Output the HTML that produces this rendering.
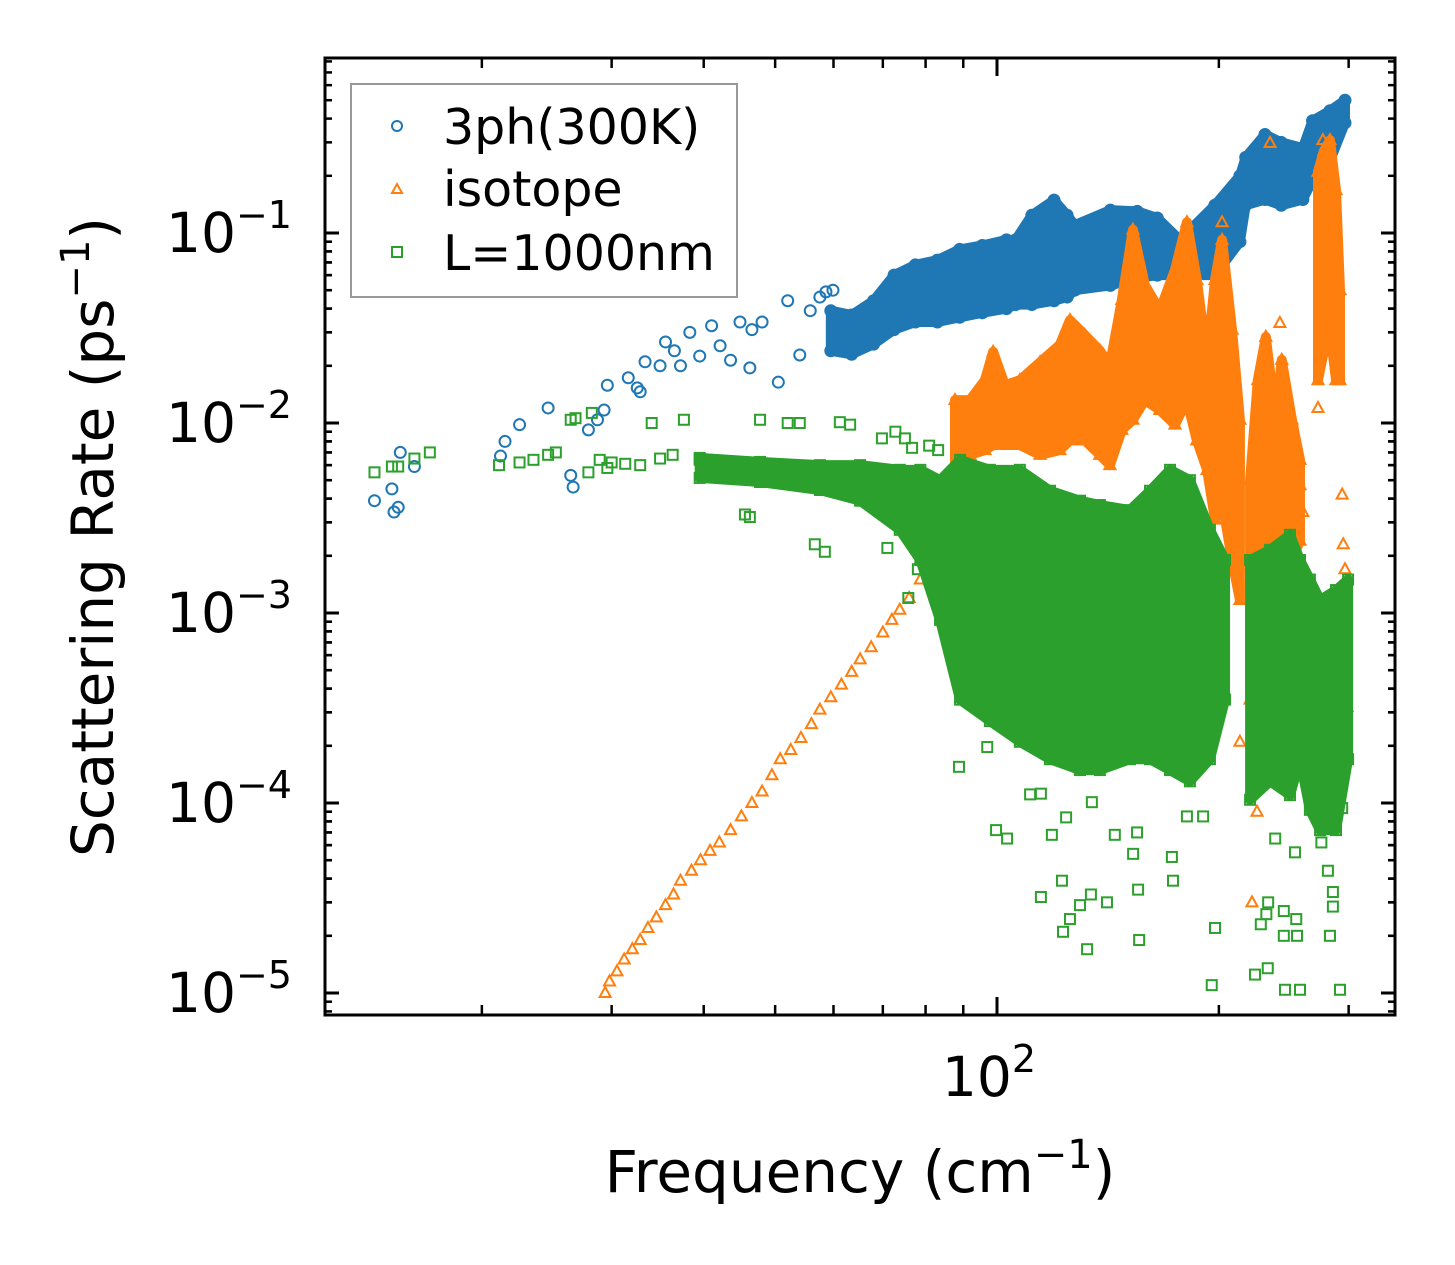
<!DOCTYPE html>
<html><head><meta charset="utf-8"><style>
html,body{margin:0;padding:0;background:#fff;}
svg{display:block;font-family:"DejaVu Sans","Liberation Sans",sans-serif;}
</style></head><body>
<svg id="chart" width="1455" height="1265" viewBox="0 0 1455 1265" xmlns="http://www.w3.org/2000/svg">
<g id="marks"></g>
<g id="axes"></g>
</svg>
<script>
// ---------- data ----------
const blueBandF  = [59.5,63.5,68.0,72.5,77.5,83.0,89.0,95.5,103.0,106.0,111.5,119.5,124.5,127.5,142.5,155.0,165.0,177.0,197.5,213.6,217.5,231.0,243.0,260.0,268.0,283.0,296.6];
const blueBandHi = [0.039,0.037,0.044,0.060,0.068,0.072,0.082,0.086,0.092,0.092,0.124,0.149,0.124,0.110,0.132,0.130,0.120,0.092,0.140,0.200,0.250,0.330,0.300,0.280,0.390,0.440,0.500];
const blueBandLo = [0.024,0.023,0.026,0.031,0.034,0.034,0.036,0.038,0.040,0.042,0.042,0.044,0.046,0.050,0.053,0.058,0.060,0.060,0.060,0.090,0.140,0.150,0.140,0.150,0.190,0.240,0.380];
const blueF = [14.3,15.1,15.2,15.4,15.5,16.2,21.2,21.5,22.5,24.6,26.4,26.6,27.9,28.7,29.3,29.6,31.6,32.5,32.8,33.3,34.9,35.5,36.5,37.2,38.3,39.5,41.0,42.1,43.5,44.8,46.2,46.5,48.0,50.5,52.0,54.0,55.8,57.5,58.6,59.9];
const blueR = [0.0039,0.0045,0.0034,0.0036,0.0070,0.0059,0.0067,0.0080,0.0098,0.0120,0.0053,0.0046,0.0092,0.0104,0.0117,0.0158,0.0173,0.0153,0.0146,0.021,0.020,0.0267,0.024,0.020,0.030,0.0225,0.0325,0.0255,0.0214,0.034,0.0195,0.031,0.034,0.0164,0.044,0.0228,0.039,0.046,0.049,0.050];

const orangeLineF = [29.4,29.8,30.5,31.2,32.0,32.8,33.6,34.5,35.5,36.4,37.2,38.5,39.6,40.8,42.0,43.5,45.0,46.5,48.0,49.5,50.8,52.5,54.2,56.0,57.5,59.5,61.5,63.5,65.2,67.5,70.0,72.0,73.8,76.0,78.7,81.0,83.7];
const orangeLineR = [1.0e-5,1.15e-5,1.3e-5,1.5e-5,1.7e-5,1.9e-5,2.2e-5,2.5e-5,2.9e-5,3.3e-5,3.9e-5,4.4e-5,5.0e-5,5.6e-5,6.2e-5,7.2e-5,8.5e-5,1.0e-4,1.15e-4,1.4e-4,1.7e-4,1.9e-4,2.2e-4,2.6e-4,3.1e-4,3.6e-4,4.2e-4,4.9e-4,5.7e-4,6.6e-4,7.9e-4,9.2e-4,1.04e-3,1.2e-3,1.5e-3,1.7e-3,1.9e-3];
const orangeBandF  = [87.7,91.9,96.3,98.8,102.5,107.4,114.4,121.7,125.6,131.6,137.9,142.3,147.7,152.9,158.7,166.3,174.4,181.0,186.7,192.8,197.6,202.0,208.4,213.6,null,220.5,225.9,231.6,238.9,243.4,251.3,257.7,null,272.6,277.7,283.0,288.4,292.0];
const orangeBandHi = [0.0132,0.0132,0.0168,0.0237,0.0158,0.0168,0.0209,0.0258,0.0348,0.029,0.024,0.0202,0.0444,0.104,0.0532,0.039,0.064,0.114,0.0566,0.0215,0.0566,0.092,0.031,0.0104,null,0.005,0.0168,0.0284,0.0104,0.0215,0.0104,0.0064,null,0.21,0.27,0.308,0.168,0.05];
const orangeBandLo = [0.00566,0.0068,0.0072,0.00766,0.00766,0.00766,0.0068,0.0072,0.0081,0.0081,0.0068,0.0060,0.0092,0.0104,0.0132,0.0117,0.0098,0.0132,0.0081,0.00566,0.0031,0.0039,0.0019,0.00117,null,3.5e-4,2.7e-4,3.5e-4,7.2e-4,0.00117,0.0019,0.0024,null,0.0168,0.024,0.031,0.0168,0.0168];
const orangeF = [202.0,234.7,276.8,242.0,272.6,294.0,295.0,296.6,298.5,260.0,257.7,213.6,225.3,221.8,137.9,144.0,127.6];
const orangeR = [0.114,0.298,0.308,0.0336,0.0120,0.0042,0.0023,0.0017,3.2e-4,0.0034,0.0047,2.1e-4,9.0e-5,3.0e-5,0.0114,0.0099,0.0031];

const greenBandF  = [39.5,47.7,57.5,65.2,73.8,78.7,83.7,89.1,97.8,107.4,118.0,129.6,137.9,151.5,161.3,171.7,182.7,194.5,203.9,null,220.5,234.7,249.8,257.7,265.8,274.4,288.4,299.5];
const greenBandHi = [0.00655,0.00624,0.0060,0.0060,0.00567,0.00567,0.0050,0.0064,0.00567,0.00567,0.0044,0.0039,0.0037,0.00348,0.0044,0.00567,0.0050,0.00274,0.0019,null,0.0019,0.00215,0.00258,0.0019,0.0015,0.00117,0.00132,0.0015];
const greenBandLo = [0.00514,0.00489,0.00444,0.0039,0.00274,0.0019,9.2e-4,3.5e-4,2.7e-4,2.1e-4,1.7e-4,1.49e-4,1.49e-4,1.7e-4,1.7e-4,1.49e-4,1.3e-4,1.7e-4,3.5e-4,null,1.04e-4,1.3e-4,1.1e-4,1.7e-4,9.2e-5,7.2e-5,7.2e-5,1.7e-4];
const greenF = [14.3,15.1,15.4,16.2,17.0,21.1,22.5,23.5,24.6,25.2,26.4,26.8,27.9,28.2,28.9,29.6,30.0,31.3,32.8,34.0,34.9,36.3,37.6,39.5,40.7,45.5,46.2,47.7,52.0,56.6,58.4,54.0,61.2,63.2,69.8,71.0,72.8,75.0,76.7,78.7,80.9,83.2,75.8,78.1,80.0,
 88.8,97.0,110.9,114.7,99.7,103.2,118.7,122.5,114.7,129.6,134.1,141.0,125.6,124.1,134.5,144.5,154.9,153.0,155.4,172.7,173.3,181.0,190.4,197.6,225.3,233.3,232.0,228.0,245.0,255.3,245.0,254.7,238.5,253.7,283.0,285.6,285.6,275.5,281.2,294.0,292.0,257.7,245.9,223.9,233.0,155.9,132.5,122.9,195.6];
const greenR = [0.0055,0.0059,0.0059,0.0065,0.0070,0.0060,0.0062,0.0064,0.0068,0.0070,0.0104,0.0106,0.0055,0.0113,0.0064,0.0058,0.0062,0.0061,0.0060,0.0100,0.0065,0.0068,0.0104,0.0064,0.0062,0.0033,0.0032,0.0104,0.0100,0.0023,0.0021,0.0100,0.0101,0.0098,0.0083,0.0022,0.0090,0.0083,0.0074,0.0051,0.0076,0.0072,0.0012,0.0017,0.0020,
 1.55e-4,1.97e-4,1.11e-4,1.12e-4,7.2e-5,6.5e-5,6.8e-5,3.9e-5,3.2e-5,2.9e-5,3.3e-5,3.0e-5,2.45e-5,8.4e-5,1.01e-4,6.8e-5,7.0e-5,5.4e-5,3.5e-5,5.2e-5,3.9e-5,8.5e-5,8.5e-5,2.2e-5,1.26e-4,3.0e-5,2.6e-5,2.3e-5,2.0e-5,2.0e-5,2.7e-5,2.45e-5,6.5e-5,5.5e-5,2.0e-5,2.85e-5,3.4e-5,6.2e-5,4.4e-5,9.4e-5,1.04e-5,1.04e-5,1.04e-5,1.25e-5,1.35e-5,1.9e-5,1.7e-5,2.1e-5,1.1e-5];

const yTicks = [-1,-2,-3,-4,-5];
const xMinorTicks = [20,30,40,50,60,70,80,90,200,300];
const xMajorTicks = [100];

// ---------- axes ----------
const L=325,R=1395,T=58,B=1015;
const X = f => 997 + 737*(Math.log10(f)-2);
const Y = r => 233 - 190*(Math.log10(r)+1);
const NS="http://www.w3.org/2000/svg";
const marks=document.getElementById('marks'), axes=document.getElementById('axes');
function mk(tag,attrs,parent){const e=document.createElementNS(NS,tag);for(const k in attrs)e.setAttribute(k,attrs[k]);parent.appendChild(e);return e;}

const C={blue:'#1f77b4',orange:'#ff7f0e',green:'#2ca02c'};
function marker(kind,x,y,col,parent){
  let e;
  if(kind==='circle') e=mk('circle',{cx:x,cy:y,r:5.5,fill:'none',stroke:col,'stroke-width':2},parent);
  else if(kind==='square') e=mk('rect',{x:x-5,y:y-5,width:10,height:10,fill:'none',stroke:col,'stroke-width':2},parent);
  else e=mk('polygon',{points:`${x},${y-6} ${x-5.5},${y+4} ${x+5.5},${y+4}`,fill:'none',stroke:col,'stroke-width':2},parent);
  return e;
}
function band(F,H,Lo,col,kind,name){
  let seg=[];const segs=[];
  for(let i=0;i<=F.length;i++){
    if(i===F.length||F[i]===null){if(seg.length)segs.push(seg);seg=[];}else seg.push(i);
  }
  segs.forEach(s=>{
    const pts=s.map(i=>X(F[i])+','+Y(H[i])).concat(s.slice().reverse().map(i=>X(F[i])+','+Y(Lo[i])));
    const p=mk('polygon',{points:pts.join(' '),fill:col,stroke:col,'stroke-width':10,'stroke-linejoin':'round'},marks);
    
    
    s.forEach(i=>{
      const a=marker(kind,X(F[i]),Y(H[i]),col,marks);
      
      
      const b=marker(kind,X(F[i]),Y(Lo[i]),col,marks);
      
      
    });
  });
}
function scatter(F,Rr,col,kind,name){
  F.forEach((f,i)=>{
    const e=marker(kind,X(f),Y(Rr[i]),col,marks);
    
    
  });
}
band(blueBandF,blueBandHi,blueBandLo,C.blue,'circle','3ph-cloud');
scatter(blueF,blueR,C.blue,'circle','3ph-point');
scatter(orangeLineF,orangeLineR,C.orange,'triangle','isotope-point');
band(orangeBandF,orangeBandHi,orangeBandLo,C.orange,'triangle','isotope-cloud');
scatter(orangeF,orangeR,C.orange,'triangle','isotope-point');
band(greenBandF,greenBandHi,greenBandLo,C.green,'square','L1000nm-cloud');
scatter(greenF,greenR,C.green,'square','L1000nm-point');

// frame
const fr=mk('rect',{x:L,y:T,width:R-L,height:B-T,fill:'none',stroke:'#000','stroke-width':3},axes);


// y ticks
yTicks.forEach(p=>{
  const y=Y(Math.pow(10,p));
  mk('line',{x1:L,x2:L+14,y1:y,y2:y,stroke:'#000','stroke-width':3},axes);
  mk('line',{x1:R,x2:R-14,y1:y,y2:y,stroke:'#000','stroke-width':3},axes);
  const t=mk('text',{x:292,y:y+19,'text-anchor':'end','font-size':55,fill:'#000'},axes);
  
  
  t.innerHTML='10<tspan dy="-24" font-size="38">\u2212'+(-p)+'</tspan>';
  for(let m=2;m<=9;m++){
    [p,p-1].forEach(q=>{
      const yy=Y(m*Math.pow(10,q));
      if(yy>T&&yy<B){
        mk('line',{x1:L,x2:L+7,y1:yy,y2:yy,stroke:'#000','stroke-width':2.5},axes);
        mk('line',{x1:R,x2:R-7,y1:yy,y2:yy,stroke:'#000','stroke-width':2.5},axes);
      }
    });
  }
});
xMinorTicks.forEach(v=>{const x=X(v);
  mk('line',{x1:x,x2:x,y1:B,y2:B-10,stroke:'#000','stroke-width':2.5},axes);
  mk('line',{x1:x,x2:x,y1:T,y2:T+10,stroke:'#000','stroke-width':2.5},axes);});
xMajorTicks.forEach(v=>{const x=X(v);
  mk('line',{x1:x,x2:x,y1:B,y2:B-18,stroke:'#000','stroke-width':3},axes);
  mk('line',{x1:x,x2:x,y1:T,y2:T+18,stroke:'#000','stroke-width':3},axes);
  const t=mk('text',{x:x-8,y:1096,'text-anchor':'middle','font-size':55,fill:'#000'},axes);
  
  
  t.innerHTML='10<tspan dy="-24" font-size="38">2</tspan>';
});
</script>
<div style="position:absolute;left:0;top:0;width:1455px;height:1265px;pointer-events:none">
<svg width="1455" height="1265" style="font-family:'DejaVu Sans','Liberation Sans',sans-serif">
  <text x="860" y="1192" text-anchor="middle" font-size="58">Frequency (cm<tspan dy="-24" font-size="40">−1</tspan><tspan dy="24">)</tspan></text>
  <text transform="translate(113,537) rotate(-90)" text-anchor="middle" font-size="58">Scattering Rate (ps<tspan dy="-24" font-size="40">−1</tspan><tspan dy="24">)</tspan></text>
  <g>
    <rect x="351" y="84" width="386" height="213" fill="#fff" fill-opacity="0.8" stroke="#999" stroke-width="2"/>
    <circle cx="397" cy="126" r="5" fill="none" stroke="#1f77b4" stroke-width="2"/>
    <text x="443" y="144" font-size="49">3ph(300K)</text>
    <polygon points="397,184 392,193 402,193" fill="none" stroke="#ff7f0e" stroke-width="2"/>
    <text x="443" y="206" font-size="49">isotope</text>
    <rect x="392" y="247" width="10" height="10" fill="none" stroke="#2ca02c" stroke-width="2"/>
    <text x="443" y="270" font-size="49">L=1000nm</text>
  </g>
</svg>
</div>
</body></html>
